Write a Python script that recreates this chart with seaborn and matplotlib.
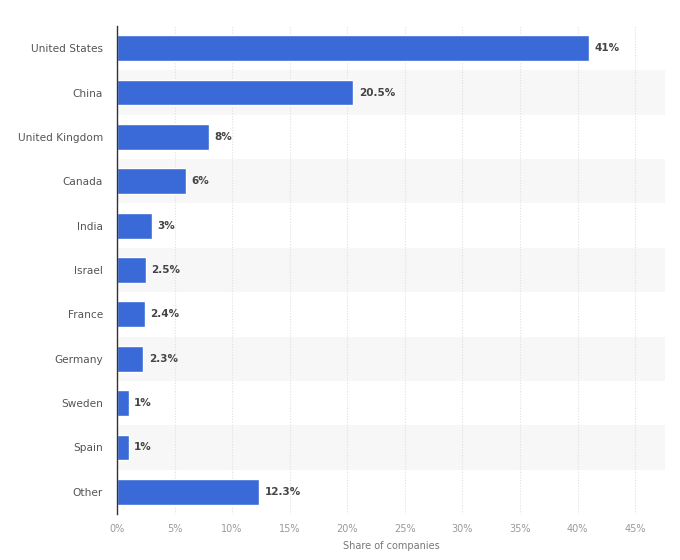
import matplotlib
matplotlib.use("Agg")
import matplotlib.pyplot as plt
import seaborn as sns
import pandas as pd
from matplotlib.ticker import FuncFormatter, MultipleLocator

countries = ["United States", "China", "United Kingdom", "Canada", "India", "Israel",
             "France", "Germany", "Sweden", "Spain", "Other"]
shares = [41, 20.5, 8, 6, 3, 2.5, 2.4, 2.3, 1, 1, 12.3]
labels = ["41%", "20.5%", "8%", "6%", "3%", "2.5%", "2.4%", "2.3%", "1%", "1%", "12.3%"]

df = pd.DataFrame({"country": countries, "share": shares})

sns.set_theme(style="white")
plt.rcParams['font.family'] = ['DejaVu Sans']

fig = plt.figure(figsize=(6.8, 5.6), dpi=100)
ax = fig.add_axes([117/680, 1 - 514/560, (665 - 117)/680, (514 - 26)/560])

# alternating bands
for i in range(len(countries)):
    if i % 2 == 1:
        ax.axhspan(i - 0.5, i + 0.5, color="#f7f7f7", zorder=0, lw=0)

sns.barplot(data=df, x="share", y="country", color="#3a6ad8", width=0.58,
            ax=ax, zorder=3, saturation=1)

for i, (v, t) in enumerate(zip(shares, labels)):
    ax.text(v + 0.5, i, t, va="center", ha="left", fontsize=7.5,
            fontweight="bold", color="#444444", zorder=4)

ax.set_xlim(0, 47.6)
ax.set_ylim(len(countries) - 0.5, -0.5)
ax.xaxis.set_major_locator(MultipleLocator(5))
ax.xaxis.set_major_formatter(FuncFormatter(lambda x, p: f"{int(x)}%"))
ax.grid(axis="x", color="#e0e0e0", linestyle=(0, (1, 1.5)), linewidth=0.8, zorder=1)
ax.set_axisbelow(True)

for s in ["top", "right", "bottom"]:
    ax.spines[s].set_visible(False)
ax.spines["left"].set_color("#333333")
ax.spines["left"].set_linewidth(1.0)
ax.spines["left"].set_zorder(5)

ax.tick_params(axis="x", labelsize=7, colors="#999999", length=0, pad=7)
ax.tick_params(axis="y", labelsize=7.6, colors="#555555", length=0, pad=10)
ax.set_ylabel("")
ax.set_xlabel("Share of companies", fontsize=7, color="#777777", labelpad=5)
ax.set_facecolor("white")

fig.savefig("out.png", dpi=100)
